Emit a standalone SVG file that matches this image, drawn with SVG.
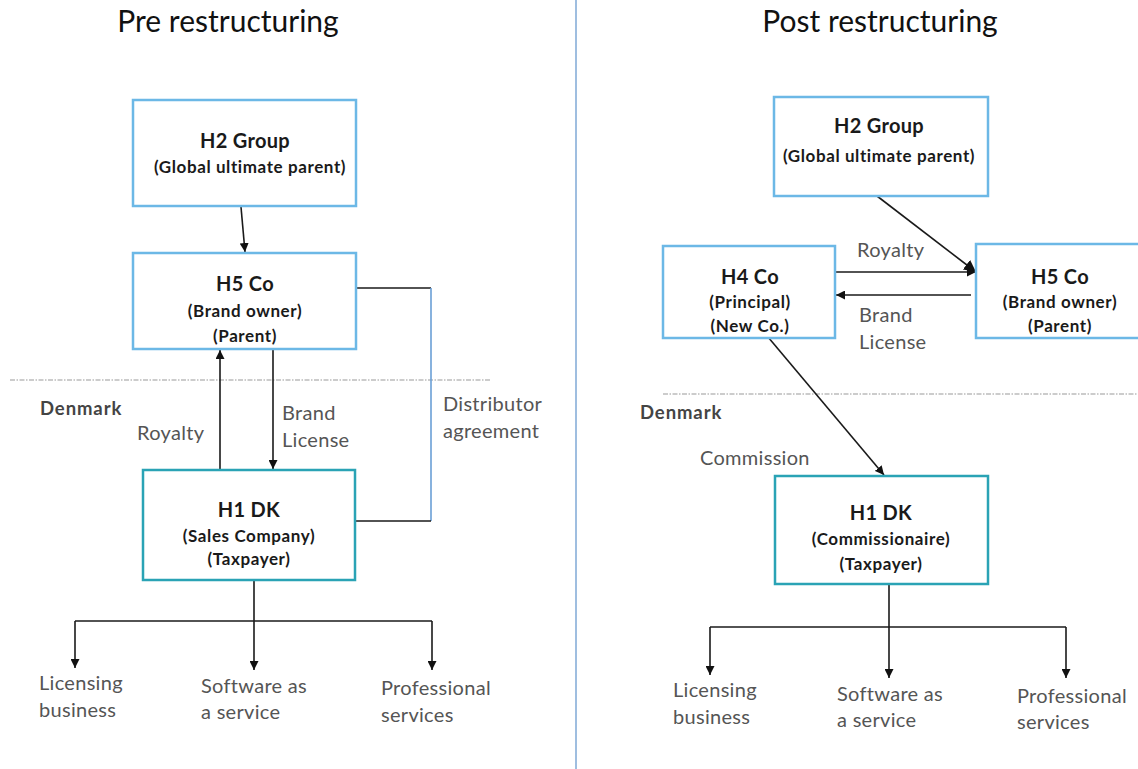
<svg xmlns="http://www.w3.org/2000/svg" width="1138" height="769" viewBox="0 0 1138 769">
  <defs>
    <marker id="arrow" viewBox="0 0 10 10" refX="10" refY="5" markerWidth="9" markerHeight="9" markerUnits="userSpaceOnUse" orient="auto">
      <path d="M0,0 L10,5 L0,10 z" fill="#111"/>
    </marker>
    <marker id="arrow-lg" viewBox="0 0 10 10" refX="10" refY="5" markerWidth="12" markerHeight="12" markerUnits="userSpaceOnUse" orient="auto">
      <path d="M0,0 L10,5 L0,10 z" fill="#111"/>
    </marker>
    <style>
      .title { font-family: Lato, "Open Sans", sans-serif; font-size: 30px; fill: #111; text-anchor: middle; }
      .box { fill: #fff; stroke: #6cb8e6; stroke-width: 2.5; }
      .box.dk { stroke: #2aa3b5; }
      .name { font-family: Lato, "Open Sans", sans-serif; font-size: 20px; font-weight: bold; fill: #1a1a1a; text-anchor: middle; letter-spacing: 0.3px; }
      .sub { font-family: Lato, "Open Sans", sans-serif; font-size: 17px; font-weight: bold; fill: #1a1a1a; text-anchor: middle; letter-spacing: 0.6px; }
      .label { font-family: Lato, "Open Sans", sans-serif; font-size: 20px; fill: #555; letter-spacing: 0.3px; }
      .region { font-family: Lato, "Open Sans", sans-serif; font-size: 18.5px; font-weight: bold; fill: #444; letter-spacing: 0.9px; }
      .link { fill: none; stroke: #1a1a1a; stroke-width: 1.6; }
      .arrowed { marker-end: url(#arrow); }
      .arrowed-lg { marker-end: url(#arrow-lg); }
      .border { stroke: #9a9a9a; stroke-width: 1.2; stroke-dasharray: 5 1.5 1.5 1.5; fill: none; }
    </style>
  </defs>

  <rect width="1138" height="769" fill="#fff"/>

  <!-- titles and divider -->
  <text class="title" x="228" y="32">Pre restructuring</text>
  <text class="title" x="880" y="32">Post restructuring</text>
  <line x1="576" y1="0" x2="576" y2="769" stroke="#7fa8d6" stroke-width="1.5"/>

  <!-- jurisdiction borders -->
  <line class="border" x1="10" y1="380" x2="490" y2="380"/>
  <line class="border" x1="663" y1="394" x2="1138" y2="394"/>
  <text class="region" x="40" y="415">Denmark</text>
  <text class="region" x="640" y="419">Denmark</text>

  <!-- connectors -->
  <g id="connectors">
    <!-- pre -->
    <line class="link arrowed" x1="241" y1="207" x2="245" y2="252"/>
    <line class="link arrowed" x1="220" y1="470" x2="220" y2="350"/>
    <line class="link arrowed" x1="273" y1="349" x2="273" y2="469"/>
    <line class="link" x1="356" y1="288" x2="431" y2="288"/>
    <line x1="431" y1="288" x2="431" y2="521" stroke="#6a9fd6" stroke-width="1.6"/>
    <line class="link" x1="431" y1="521" x2="356" y2="521"/>
    <line class="link" x1="254" y1="580" x2="254" y2="621"/>
    <line class="link" x1="75" y1="621" x2="432" y2="621"/>
    <line class="link arrowed" x1="75" y1="621" x2="75" y2="668"/>
    <line class="link arrowed" x1="254" y1="621" x2="254" y2="670"/>
    <line class="link arrowed" x1="432" y1="621" x2="432" y2="670"/>
    <!-- post -->
    <line class="link arrowed-lg" x1="877" y1="196" x2="976" y2="272"/>
    <line class="link arrowed" x1="835" y1="272" x2="976" y2="272"/>
    <line class="link arrowed" x1="971" y1="295" x2="836" y2="295"/>
    <line class="link arrowed" x1="768" y1="337" x2="884" y2="475"/>
    <line class="link" x1="889" y1="584" x2="889" y2="627"/>
    <line class="link" x1="710" y1="627" x2="1066" y2="627"/>
    <line class="link arrowed" x1="710" y1="627" x2="710" y2="675"/>
    <line class="link arrowed" x1="889" y1="627" x2="889" y2="678"/>
    <line class="link arrowed" x1="1066" y1="627" x2="1066" y2="678"/>
  </g>

  <!-- connector labels -->
  <text class="label" x="137" y="440">Royalty</text>
  <text class="label" x="282" y="420">Brand</text>
  <text class="label" x="282" y="447">License</text>
  <text class="label" x="443" y="411">Distributor</text>
  <text class="label" x="443" y="438">agreement</text>
  <text class="label" x="857" y="257">Royalty</text>
  <text class="label" x="859" y="322">Brand</text>
  <text class="label" x="859" y="349">License</text>
  <text class="label" x="700" y="465">Commission</text>

  <!-- pre restructuring nodes -->
  <g id="pre-h2">
    <rect class="box" x="133" y="100" width="223" height="106"/>
    <text class="name" x="245" y="148">H2 Group</text>
    <text class="sub" x="250" y="173">(Global ultimate parent)</text>
  </g>
  <g id="pre-h5">
    <rect class="box" x="133" y="253" width="223" height="96"/>
    <text class="name" x="245" y="291">H5 Co</text>
    <text class="sub" x="245" y="317">(Brand owner)</text>
    <text class="sub" x="245" y="342">(Parent)</text>
  </g>
  <g id="pre-h1">
    <rect class="box dk" x="143" y="470" width="212" height="110"/>
    <text class="name" x="249" y="517">H1 DK</text>
    <text class="sub" x="249" y="542">(Sales Company)</text>
    <text class="sub" x="249" y="565">(Taxpayer)</text>
  </g>
  <g id="pre-licensing">
    <text class="label" x="39" y="690">Licensing</text>
    <text class="label" x="39" y="717">business</text>
  </g>
  <g id="pre-saas">
    <text class="label" x="201" y="693">Software as</text>
    <text class="label" x="201" y="719">a service</text>
  </g>
  <g id="pre-professional">
    <text class="label" x="381" y="695">Professional</text>
    <text class="label" x="381" y="722">services</text>
  </g>

  <!-- post restructuring nodes -->
  <g id="post-h2">
    <rect class="box" x="774" y="97" width="214" height="99"/>
    <text class="name" x="879" y="133">H2 Group</text>
    <text class="sub" x="879" y="162">(Global ultimate parent)</text>
  </g>
  <g id="post-h4">
    <rect class="box" x="663" y="246" width="172" height="92"/>
    <text class="name" x="750" y="284">H4 Co</text>
    <text class="sub" x="750" y="308">(Principal)</text>
    <text class="sub" x="750" y="332">(New Co.)</text>
  </g>
  <g id="post-h5">
    <rect class="box" x="976" y="244" width="170" height="94"/>
    <text class="name" x="1060" y="284">H5 Co</text>
    <text class="sub" x="1060" y="308">(Brand owner)</text>
    <text class="sub" x="1060" y="332">(Parent)</text>
  </g>
  <g id="post-h1">
    <rect class="box dk" x="775" y="476" width="213" height="108"/>
    <text class="name" x="881" y="520">H1 DK</text>
    <text class="sub" x="881" y="545">(Commissionaire)</text>
    <text class="sub" x="881" y="570">(Taxpayer)</text>
  </g>
  <g id="post-licensing">
    <text class="label" x="673" y="697">Licensing</text>
    <text class="label" x="673" y="724">business</text>
  </g>
  <g id="post-saas">
    <text class="label" x="837" y="701">Software as</text>
    <text class="label" x="837" y="727">a service</text>
  </g>
  <g id="post-professional">
    <text class="label" x="1017" y="703">Professional</text>
    <text class="label" x="1017" y="729">services</text>
  </g>
</svg>
